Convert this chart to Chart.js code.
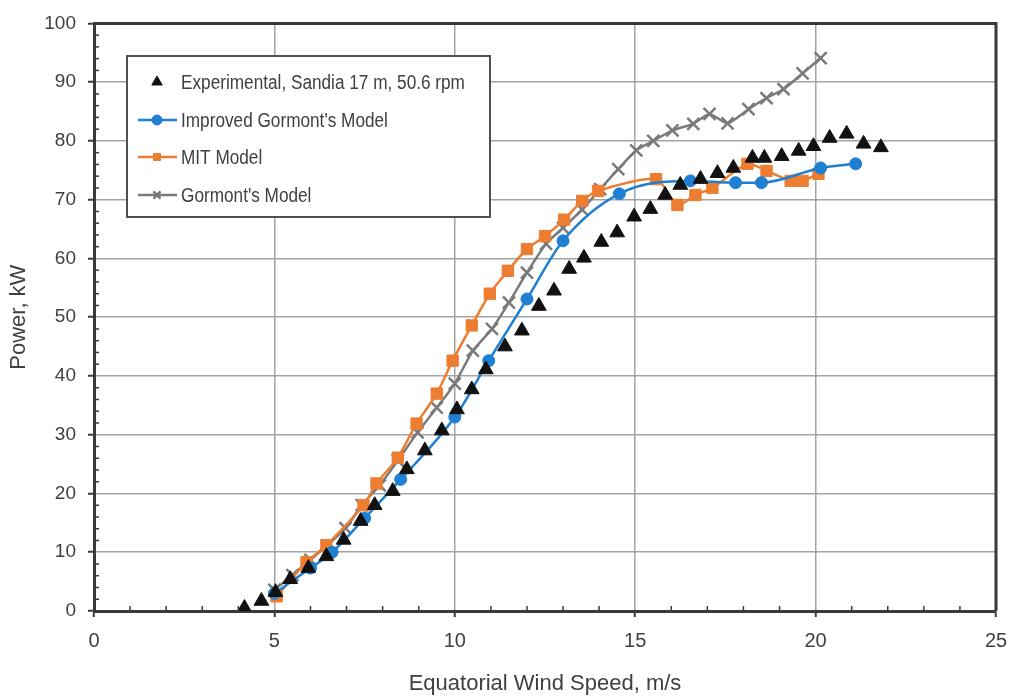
<!DOCTYPE html>
<html>
<head>
<meta charset="utf-8">
<script src="https://cdn.jsdelivr.net/npm/chart.js@4"></script>
<style>
  html, body { margin: 0; padding: 0; background: #fff; }
  #wrap { width: 1011px; height: 697px; }
</style>
</head>
<body>
<div id="wrap"><canvas id="powerChart"></canvas></div>
<script>
// experimental, Sandia 17 m
const expSpeed = [4.17,4.64,5.03,5.44,5.94,6.44,6.92,7.39,7.78,8.28,8.67,9.17,9.64,10.06,10.47,10.86,11.39,11.86,12.33,12.75,13.17,13.58,14.06,14.5,14.97,15.42,15.83,16.25,16.81,17.28,17.72,18.25,18.58,19.06,19.53,19.94,20.39,20.86,21.33,21.81];
const expPower = [0.5,1.7,3.2,5.4,7.3,9.3,12.1,15.3,18.0,20.4,24.1,27.3,30.7,34.3,37.7,41.1,45.0,47.7,51.9,54.5,58.2,60.1,62.8,64.4,67.1,68.4,70.8,72.5,73.5,74.5,75.4,77.1,77.1,77.4,78.3,79.1,80.5,81.2,79.5,78.9];

// improved gormont
const impSpeed = [5.0,6.0,6.6,7.5,8.5,10.0,10.94,12.0,13.0,14.56,16.53,17.78,18.5,20.14,21.11];
const impPower = [3.0,7.3,10.0,15.8,22.4,33.0,42.6,53.1,63.0,71.0,73.2,72.9,72.9,75.4,76.1];

// MIT
const mitSpeed = [5.06,5.89,6.44,7.47,7.83,8.42,8.94,9.5,9.94,10.47,10.97,11.47,12.0,12.5,13.03,13.53,13.97,15.58,16.17,16.67,17.14,18.11,18.64,19.31,19.64,20.08];
const mitPower = [2.5,8.3,11.2,18.0,21.7,26.1,31.9,37.0,42.6,48.6,54.0,57.9,61.6,63.8,66.6,69.8,71.5,73.5,69.1,70.8,72.0,76.1,74.9,73.2,73.2,74.4];

// gormont
const gorSpeed = [5.0,5.5,6.0,6.47,6.97,7.42,7.92,8.42,8.97,9.5,10.0,10.5,11.03,11.5,12.0,12.53,13.0,13.53,14.03,14.53,15.03,15.5,16.03,16.61,17.06,17.56,18.14,18.64,19.11,19.64,20.14];
const gorPower = [3.6,6.1,8.7,11.2,14.1,18.0,21.4,25.6,30.4,34.6,38.7,44.3,48.0,52.5,57.6,62.5,65.2,68.3,71.8,75.2,78.4,80.0,81.8,82.9,84.6,83.0,85.4,87.3,88.8,91.5,94.1];

const xTicks = [0,5,10,15,20,25];
const yTicks = [0,10,20,30,40,50,60,70,80,90,100];

const seriesNames = [
  'Experimental, Sandia 17 m, 50.6 rpm',
  "Improved Gormont's Model",
  'MIT Model',
  "Gormont's Model"
];

function pts(xs, ys){
  return xs.map((x, i) => ({ x: x, y: ys[i] }));
}

const sans = '"Liberation Sans", Arial, sans-serif';
const textCol = '#404040';
const axisCol = '#3a3a3a';

// minor ticks + frame on top/right
const framePlugin = {
  id: 'frame',
  afterDraw(chart){
    const c = chart.ctx, a = chart.chartArea;
    const xs = chart.scales.x, ys = chart.scales.y;
    c.save();
    c.strokeStyle = axisCol;
    c.lineWidth = 1.5;
    for (let v = 1; v < 25; v++){
      if (v % 5 === 0) continue;
      const px = xs.getPixelForValue(v);
      c.beginPath(); c.moveTo(px, a.bottom); c.lineTo(px, a.bottom - 5); c.stroke();
    }
    for (let v = 2; v < 100; v += 2){
      if (v % 10 === 0) continue;
      const py = ys.getPixelForValue(v);
      c.beginPath(); c.moveTo(a.left, py); c.lineTo(a.left + 5, py); c.stroke();
    }
    c.lineWidth = 3;
    c.beginPath();
    c.moveTo(a.left, a.top); c.lineTo(a.right, a.top); c.lineTo(a.right, a.bottom);
    c.stroke();
    c.restore();
  }
};

// legend box inside the plot
const legendPlugin = {
  id: 'boxLegend',
  afterDraw(chart){
    const c = chart.ctx;
    const bx = 127, by = 56, bw = 363, bh = 161;
    c.save();
    c.fillStyle = '#fff';
    c.fillRect(bx, by, bw, bh);
    c.strokeStyle = '#505050';
    c.lineWidth = 2;
    c.strokeRect(bx, by, bw, bh);
    const rows = [82, 120, 157, 195];
    chart.data.datasets.forEach((ds, i) => {
      const y = rows[i];
      if (ds.showLine){
        c.strokeStyle = ds.borderColor;
        c.lineWidth = 2.5;
        c.beginPath(); c.moveTo(138, y); c.lineTo(177, y); c.stroke();
      }
      c.fillStyle = ds.pointBackgroundColor;
      c.strokeStyle = ds.pointBorderColor;
      c.lineWidth = ds.pointBorderWidth;
      Chart.helpers.drawPoint(c, {
        pointStyle: ds.pointStyle,
        radius: i === 0 ? 6 : 5,
        borderWidth: ds.pointBorderWidth
      }, 157, y);
      // text is a little condensed, like the original
      c.save();
      c.translate(181, y + 1);
      c.scale(0.86, 1);
      c.fillStyle = textCol;
      c.font = '20px ' + sans;
      c.textBaseline = 'middle';
      c.textAlign = 'left';
      c.fillText(seriesNames[i], 0, 0);
      c.restore();
    });
    c.restore();
  }
};

new Chart(document.getElementById('powerChart'), {
  type: 'scatter',
  data: {
    datasets: [
      {
        label: seriesNames[0],
        data: pts(expSpeed, expPower),
        showLine: false,
        pointStyle: 'triangle',
        pointRadius: 8.5,
        pointBackgroundColor: '#111',
        pointBorderColor: '#111',
        pointBorderWidth: 1
      },
      {
        label: seriesNames[1],
        data: pts(impSpeed, impPower),
        showLine: true,
        borderColor: '#1f7fd1',
        borderWidth: 2.5,
        cubicInterpolationMode: 'monotone',
        pointStyle: 'circle',
        pointRadius: 6,
        pointBackgroundColor: '#1f7fd1',
        pointBorderColor: '#1f7fd1',
        pointBorderWidth: 1
      },
      {
        label: seriesNames[2],
        data: pts(mitSpeed, mitPower),
        showLine: true,
        borderColor: '#ed7d31',
        borderWidth: 2.5,
        tension: 0.25,
        pointStyle: 'rect',
        pointRadius: 8,
        pointBackgroundColor: '#ed7d31',
        pointBorderColor: '#ed7d31',
        pointBorderWidth: 1
      },
      {
        label: seriesNames[3],
        data: pts(gorSpeed, gorPower),
        showLine: true,
        borderColor: '#7a7a7a',
        borderWidth: 2.5,
        tension: 0.2,
        pointStyle: 'crossRot',
        pointRadius: 8.5,
        pointBackgroundColor: '#7a7a7a',
        pointBorderColor: '#7a7a7a',
        pointBorderWidth: 2.5
      }
    ]
  },
  options: {
    responsive: true,
    maintainAspectRatio: false,
    animation: false,
    layout: { padding: { top: 23, right: 15, left: 0, bottom: 0 } },
    plugins: {
      legend: { display: false },
      tooltip: { enabled: false }
    },
    scales: {
      x: {
        type: 'linear',
        min: 0, max: 25,
        afterBuildTicks(s){ s.ticks = xTicks.map(v => ({ value: v })); },
        afterFit(s){ s.height = 86; s.paddingRight = 0; s.paddingLeft = 0; },
        grid: { color: '#a3a3a3', lineWidth: 1.5, tickLength: 6, tickColor: axisCol, tickWidth: 2 },
        border: { color: axisCol, width: 3 },
        ticks: { color: textCol, padding: 12, maxRotation: 0, font: { family: sans, size: 20 } },
        title: { display: true, text: 'Equatorial Wind Speed, m/s', color: textCol, padding: { top: 0, bottom: 0 }, font: { family: sans, size: 22 } }
      },
      y: {
        type: 'linear',
        min: 0, max: 100,
        afterBuildTicks(s){ s.ticks = yTicks.map(v => ({ value: v })); },
        afterFit(s){ s.width = 94; },
        grid: { color: '#a3a3a3', lineWidth: 1.5, tickLength: 6, tickColor: axisCol, tickWidth: 2 },
        border: { color: axisCol, width: 3 },
        ticks: { color: textCol, padding: 12, font: { family: sans, size: 19 } },
        title: { display: true, text: 'Power, kW', color: textCol, padding: { top: 6, bottom: 0 }, font: { family: sans, size: 22 } }
      }
    }
  },
  plugins: [framePlugin, legendPlugin]
});
</script>
</body>
</html>
